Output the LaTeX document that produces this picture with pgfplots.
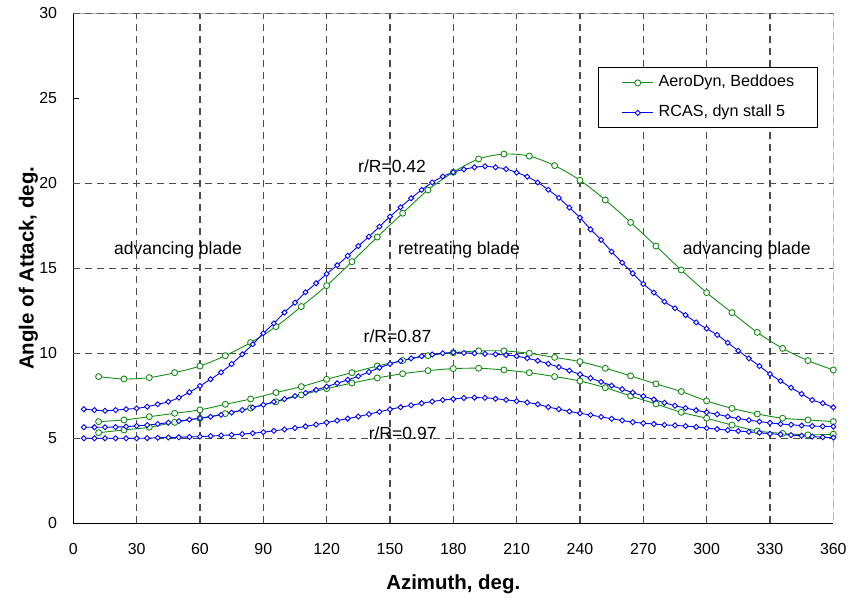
\documentclass[border=0pt]{standalone}
\usepackage{pgfplots}
\pgfplotsset{compat=1.18}
\usepackage{fontspec}
\setmainfont{Liberation Sans}
\definecolor{ggreen}{RGB}{20,140,20}
\definecolor{bblue}{RGB}{0,0,255}
\begin{document}
\begin{tikzpicture}
\begin{axis}[
  at={(0,0)}, anchor=origin,
  scale only axis, width=760bp, height=510bp,
  xmin=0, xmax=360, ymin=0, ymax=30,
  axis x line*=bottom, axis y line*=left,
  axis line style={-, black, line width=1.2bp},
  xtick={0,30,...,360}, ytick={0,5,...,30},
  tick align=inside,
  major tick length=6bp,
  xtick style={draw=none},
  ytick style={black, line width=1bp},
  extra x ticks={30,60,...,330}, extra x tick labels={},
  extra y ticks={5,10,15,20}, extra y tick labels={},
  extra tick style={grid=major, major tick length=0pt},
  grid style={black!70, line width=1.1bp, dash pattern=on 7bp off 5bp},
  /pgf/number format/assume math mode=true,
  tick label style={font=\fontsize{16}{19}\selectfont, inner sep=0pt},
  xticklabel style={anchor=north, yshift=-20bp},
  yticklabel style={anchor=east, xshift=-16bp},
  xlabel={Azimuth, deg.}, ylabel={Angle of Attack, deg.},
  label style={font=\fontsize{20.5}{24}\selectfont\bfseries, inner sep=0pt},
  xlabel style={at={(axis description cs:0.5,-0.1196)}, anchor=center},
  ylabel style={at={(axis description cs:-0.0592,0.5)}, anchor=center},
  legend style={at={(rel axis cs:0.6908,0.894)}, anchor=north west, draw=black, line width=1bp, fill=white,
    inner xsep=23bp, inner ysep=7bp, font=\fontsize{16.2}{19}\selectfont, row sep=14bp,
    nodes={inner sep=0pt, text height=12bp, text depth=4bp},
    /tikz/every odd column/.append style={column sep=5bp}},
  legend cell align=left,
  legend image code/.code={\draw[mark repeat=2, mark phase=2, #1] plot coordinates {(0bp,0bp) (15.5bp,0bp) (31bp,0bp)};},
  every axis plot/.append style={line width=0.9bp},
]
% top and right border
\draw[black!30, line width=1.2bp] (rel axis cs:0,1) -- (rel axis cs:1,1) -- (rel axis cs:1,0);
\draw[black!65, line width=1.2bp, dash pattern=on 7bp off 5bp] (rel axis cs:0,1) -- (rel axis cs:1,1) -- (rel axis cs:1,0);

% AeroDyn r/R=0.42
\addplot[ggreen, smooth, mark=*, mark size=3bp, mark options={fill=white, draw=ggreen, line width=0.9bp}] table {
12 8.63
24 8.49
36 8.57
48 8.86
60 9.25
72 9.86
84 10.63
96 11.57
108 12.75
120 13.98
132 15.39
144 16.84
156 18.24
168 19.61
180 20.65
192 21.43
204 21.72
216 21.60
228 21.04
240 20.18
252 19.02
264 17.70
276 16.31
288 14.90
300 13.57
312 12.39
324 11.23
336 10.29
348 9.57
360 9.02
};
\addlegendentry{AeroDyn, Beddoes}

% RCAS r/R=0.42
\addplot[bblue, smooth, mark=square*, mark size=1.8bp, mark options={rotate=45, fill=white, draw=bblue, line width=0.9bp}] table {
5 6.71
10 6.66
15 6.62
20 6.66
25 6.71
30 6.76
35 6.86
40 7.00
45 7.15
50 7.39
55 7.71
60 8.08
65 8.47
70 8.88
75 9.37
80 9.94
85 10.53
90 11.18
95 11.76
100 12.40
105 12.98
110 13.59
115 14.12
120 14.67
125 15.18
130 15.73
135 16.31
140 16.86
145 17.45
150 18.04
155 18.59
160 19.12
165 19.61
170 20.05
175 20.40
180 20.65
185 20.82
190 20.94
195 21.00
200 20.94
205 20.84
210 20.63
215 20.39
220 20.05
225 19.62
230 19.14
235 18.57
240 17.98
245 17.29
250 16.67
255 15.98
260 15.33
265 14.70
270 14.08
275 13.57
280 13.04
285 12.65
290 12.25
295 11.82
300 11.45
305 11.08
310 10.62
315 10.15
320 9.70
325 9.25
330 8.78
335 8.37
340 7.98
345 7.61
350 7.25
355 7.06
360 6.82
};
\addlegendentry{RCAS, dyn stall 5}

% AeroDyn r/R=0.87
\addplot[ggreen, smooth, forget plot, mark=*, mark size=3bp, mark options={fill=white, draw=ggreen, line width=0.9bp}] table {
12 5.98
24 6.08
36 6.27
48 6.47
60 6.67
72 7.00
84 7.31
96 7.69
108 8.04
120 8.47
132 8.86
144 9.25
156 9.57
168 9.86
180 10.04
192 10.14
204 10.14
216 10.00
228 9.76
240 9.51
252 9.12
264 8.67
276 8.20
288 7.75
300 7.20
312 6.76
324 6.43
336 6.18
348 6.08
360 5.98
};

% AeroDyn r/R=0.97
\addplot[ggreen, smooth, forget plot, mark=*, mark size=3bp, mark options={fill=white, draw=ggreen, line width=0.9bp}] table {
12 5.33
24 5.49
36 5.65
48 5.94
60 6.18
72 6.45
84 6.78
96 7.15
108 7.55
120 7.92
132 8.25
144 8.55
156 8.80
168 8.98
180 9.10
192 9.12
204 9.02
216 8.86
228 8.63
240 8.37
252 7.98
264 7.49
276 7.02
288 6.53
300 6.18
312 5.78
324 5.43
336 5.29
348 5.20
360 5.24
};

% RCAS r/R=0.87
\addplot[bblue, smooth, forget plot, mark=square*, mark size=1.8bp, mark options={rotate=45, fill=white, draw=bblue, line width=0.9bp}] table {
5 5.65
10 5.65
15 5.65
20 5.66
25 5.69
30 5.73
35 5.78
40 5.84
45 5.92
50 6.01
55 6.10
60 6.18
65 6.27
70 6.38
75 6.51
80 6.66
85 6.81
90 6.97
95 7.14
100 7.31
105 7.49
110 7.67
115 7.85
120 8.04
125 8.24
130 8.44
135 8.65
140 8.90
145 9.15
150 9.37
155 9.55
160 9.70
165 9.83
170 9.93
175 10.00
180 10.05
185 10.02
190 10.00
195 9.97
200 9.94
205 9.90
210 9.83
215 9.71
220 9.56
225 9.38
230 9.19
235 8.98
240 8.76
245 8.54
250 8.32
255 8.10
260 7.89
265 7.69
270 7.48
275 7.28
280 7.09
285 6.92
290 6.78
295 6.65
300 6.53
305 6.41
310 6.28
315 6.16
320 6.07
325 5.98
330 5.91
335 5.84
340 5.80
345 5.75
350 5.72
355 5.70
360 5.69
};

% RCAS r/R=0.97
\addplot[bblue, smooth, forget plot, mark=square*, mark size=1.8bp, mark options={rotate=45, fill=white, draw=bblue, line width=0.9bp}] table {
5 5.00
10 5.00
15 5.00
20 5.00
25 5.00
30 5.00
35 5.01
40 5.03
45 5.05
50 5.06
55 5.08
60 5.10
65 5.13
70 5.17
75 5.20
80 5.25
85 5.30
90 5.36
95 5.44
100 5.52
105 5.60
110 5.70
115 5.81
120 5.93
125 6.04
130 6.16
135 6.28
140 6.42
145 6.56
150 6.70
155 6.83
160 6.94
165 7.06
170 7.16
175 7.25
180 7.31
185 7.37
190 7.39
195 7.38
200 7.33
205 7.26
210 7.19
215 7.11
220 7.00
225 6.84
230 6.71
235 6.58
240 6.47
245 6.37
250 6.26
255 6.15
260 6.05
265 5.95
270 5.89
275 5.84
280 5.79
285 5.76
290 5.72
295 5.67
300 5.60
305 5.54
310 5.48
315 5.43
320 5.38
325 5.33
330 5.27
335 5.23
340 5.19
345 5.15
350 5.10
355 5.06
360 5.04
};

\node[font=\fontsize{17.6}{20}\selectfont, inner sep=0pt] at (axis cs:151,20.98) {r/R=0.42};
\node[font=\fontsize{17.6}{20}\selectfont, inner sep=0pt] at (axis cs:153.6,11.03) {r/R=0.87};
\node[font=\fontsize{17.6}{20}\selectfont, inner sep=0pt] at (axis cs:156,5.29) {r/R=0.97};
\node[font=\fontsize{17.6}{20}\selectfont, inner sep=0pt] at (axis cs:49.6,16.1) {advancing blade};
\node[font=\fontsize{17.6}{20}\selectfont, inner sep=0pt] at (axis cs:182.7,16.1) {retreating blade};
\node[font=\fontsize{17.6}{20}\selectfont, inner sep=0pt] at (axis cs:319,16.1) {advancing blade};
\end{axis}
\pgfresetboundingbox
\useasboundingbox (-73.3bp,-76.7bp) rectangle (776.7bp,523.3bp);
\end{tikzpicture}
\end{document}
